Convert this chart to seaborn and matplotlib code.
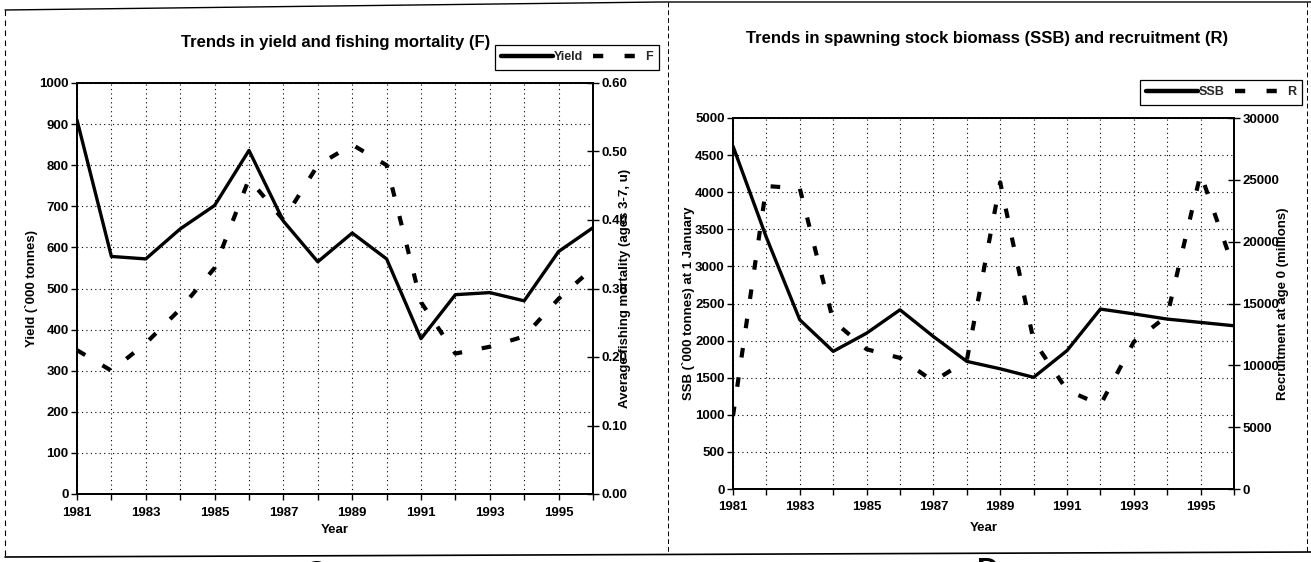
import matplotlib
matplotlib.use("Agg")
import matplotlib.pyplot as plt
import matplotlib.ticker as mticker
from matplotlib.lines import Line2D
import pandas as pd
import seaborn as sns

# ---- data -------------------------------------------------------------
years = list(range(1981, 1997))
yield_kt = [910, 578, 572, 645, 702, 836, 664, 565, 635, 572, 378, 485, 490, 470, 590, 648]
fishing_mortality = [0.21, 0.18, 0.22, 0.27, 0.33, 0.46, 0.40, 0.48, 0.51, 0.48,
                     0.28, 0.205, 0.215, 0.23, 0.285, 0.33]
ssb_kt = [4620, 3390, 2280, 1855, 2100, 2415, 2055, 1720, 1620, 1505,
          1865, 2425, 2360, 2290, 2245, 2200]
recruitment = [5900, 24500, 24300, 13600, 11300, 10600, 8700, 10400, 24800, 12000,
               8000, 6800, 11900, 14000, 25500, 17800]
year_labels = [str(y) if y % 2 == 1 else "" for y in years]

df = pd.DataFrame({"Year": years, "Yield": yield_kt, "F": fishing_mortality,
                   "SSB": ssb_kt, "R": recruitment})

# ---- style ------------------------------------------------------------
sns.set_theme(style="white")
plt.rcParams["font.family"] = ["Liberation Sans", "DejaVu Sans"]
plt.rcParams["font.weight"] = "bold"
plt.rcParams["axes.labelweight"] = "bold"

W, H = 1311, 562
fig = plt.figure(figsize=(W / 100, H / 100), dpi=100)
fig.patch.set_facecolor("white")


def fx(x):
    return x / W


def fy(y):
    return 1 - y / H


TICK_FS = 9.5
LABEL_FS = 9.5
TITLE_FS = 12
SOLID = dict(color="black", lw=2.4)
DASHED = dict(color="black", lw=3.0, linestyle=(0, (2.3, 4.8)))
GRID = dict(color="black", linestyle=(0, (1, 3)), linewidth=0.8)


def style_axes(ax, ax2, ymax, ystep, y2max, y2step, y2fmt):
    ax.set_xlim(years[0], years[-1])
    ax.set_ylim(0, ymax)
    ax2.set_ylim(0, y2max)
    ax.set_xticks(years)
    ax.set_xticklabels(year_labels)
    ax.yaxis.set_major_locator(mticker.MultipleLocator(ystep))
    ax2.yaxis.set_major_locator(mticker.MultipleLocator(y2step))
    ax2.yaxis.set_major_formatter(mticker.FormatStrFormatter(y2fmt))
    ax.grid(True, **GRID)
    ax.set_axisbelow(True)
    ax2.grid(False)
    for a in (ax, ax2):
        for s in a.spines.values():
            s.set_color("black")
            s.set_linewidth(1.3)
    ax.tick_params(axis="x", direction="out", length=4, width=1, pad=5,
                   labelsize=TICK_FS, bottom=True, colors="black")
    ax.tick_params(axis="y", direction="out", length=4, width=1, pad=2,
                   labelsize=TICK_FS, left=True, colors="black")
    ax2.tick_params(axis="y", direction="inout", length=8, width=1, pad=2,
                    labelsize=TICK_FS, right=True, colors="black")
    for lab in ax.get_xticklabels() + ax.get_yticklabels() + ax2.get_yticklabels():
        lab.set_fontweight("bold")


def place_labels(ax, ax2, xlab, ylab, y2lab, xlab_y, ylab_x, y2lab_x):
    ax.set_xlabel(xlab, fontsize=LABEL_FS, fontweight="bold", color="black")
    ax.xaxis.set_label_coords(0.5, xlab_y)
    ax.set_ylabel(ylab, fontsize=LABEL_FS, fontweight="bold", color="black")
    ax.yaxis.set_label_coords(ylab_x, 0.5)
    ax.yaxis.label.set_va("center")
    ax2.set_ylabel(y2lab, fontsize=LABEL_FS, fontweight="bold", color="black")
    ax2.yaxis.set_label_coords(y2lab_x, 0.5)
    ax2.yaxis.label.set_va("center")


# ---- left panel: yield and fishing mortality ---------------------------
axL = fig.add_axes([fx(77), fy(494), fx(593 - 77), (494 - 83) / H])
axL2 = axL.twinx()
sns.lineplot(data=df, x="Year", y="Yield", ax=axL, label="Yield", legend=False, **SOLID)
sns.lineplot(data=df, x="Year", y="F", ax=axL2, label="F", legend=False, **DASHED)
style_axes(axL, axL2, 1000, 100, 0.6, 0.1, "%.2f")
place_labels(axL, axL2, "Year", "Yield (`000 tonnes)",
             "Average fishing mortality (ages 3-7, u)", -0.072, -0.089, 1.062)
fig.text(fx(336), fy(42), "Trends in yield and fishing mortality (F)",
         ha="center", va="center", fontsize=TITLE_FS, fontweight="bold", color="black")

# ---- right panel: SSB and recruitment ----------------------------------
axR = fig.add_axes([fx(733), fy(489), fx(1234 - 733), (489 - 118) / H])
axR2 = axR.twinx()
sns.lineplot(data=df, x="Year", y="SSB", ax=axR, label="SSB", legend=False, **SOLID)
sns.lineplot(data=df, x="Year", y="R", ax=axR2, label="R", legend=False, **DASHED)
style_axes(axR, axR2, 5000, 500, 30000, 5000, "%d")
place_labels(axR, axR2, "Year", "SSB (`000 tonnes) at 1 January",
             "Recruitment at age 0 (millions)", -0.088, -0.088, 1.098)
fig.text(fx(987), fy(38), "Trends in spawning stock biomass (SSB) and recruitment (R)",
         ha="center", va="center", fontsize=TITLE_FS, fontweight="bold", color="black")

# ---- legends --------------------------------------------------------------
def add_legend(ax, ax2, names, x0, y0):
    handles = [ax.lines[0], ax2.lines[0]]
    leg = fig.legend(handles, names, loc="upper left", bbox_to_anchor=(fx(x0), fy(y0)),
                     bbox_transform=fig.transFigure, ncol=2, frameon=True, fancybox=False,
                     edgecolor="black", framealpha=1, borderaxespad=0, handlelength=4.1,
                     handletextpad=0.1, columnspacing=0.8, borderpad=0.5,
                     prop={"size": 9, "weight": "bold"})
    leg.get_frame().set_linewidth(0.9)
    for line in leg.get_lines():
        line.set_linewidth(3.2)
    return leg


add_legend(axL, axL2, ["Yield", "F"], 495, 45)
add_legend(axR, axR2, ["SSB", "R"], 1140, 80)

# ---- page frame and panel letters -------------------------------------------
def frame_line(xs, ys, **kw):
    fig.add_artist(Line2D([fx(x) for x in xs], [fy(y) for y in ys],
                          transform=fig.transFigure, color="black", **kw))


frame_line([5, 660, 1311], [10, 2, 2], lw=1.0)
frame_line([5, 1311], [557, 552], lw=1.2)
frame_line([5, 5], [10, 557], lw=0.8, linestyle=(0, (5, 4)))
frame_line([668, 668], [2, 553], lw=0.7, linestyle=(0, (5, 3)))
frame_line([1307, 1307], [2, 553], lw=0.7, linestyle=(0, (5, 3)))

fig.text(fx(316), fy(583), "C", ha="center", va="baseline", fontsize=22, color="black")
fig.text(fx(988), fy(580), "D", ha="center", va="baseline", fontsize=22, color="black")

fig.savefig("out.png", dpi=100, facecolor="white")
